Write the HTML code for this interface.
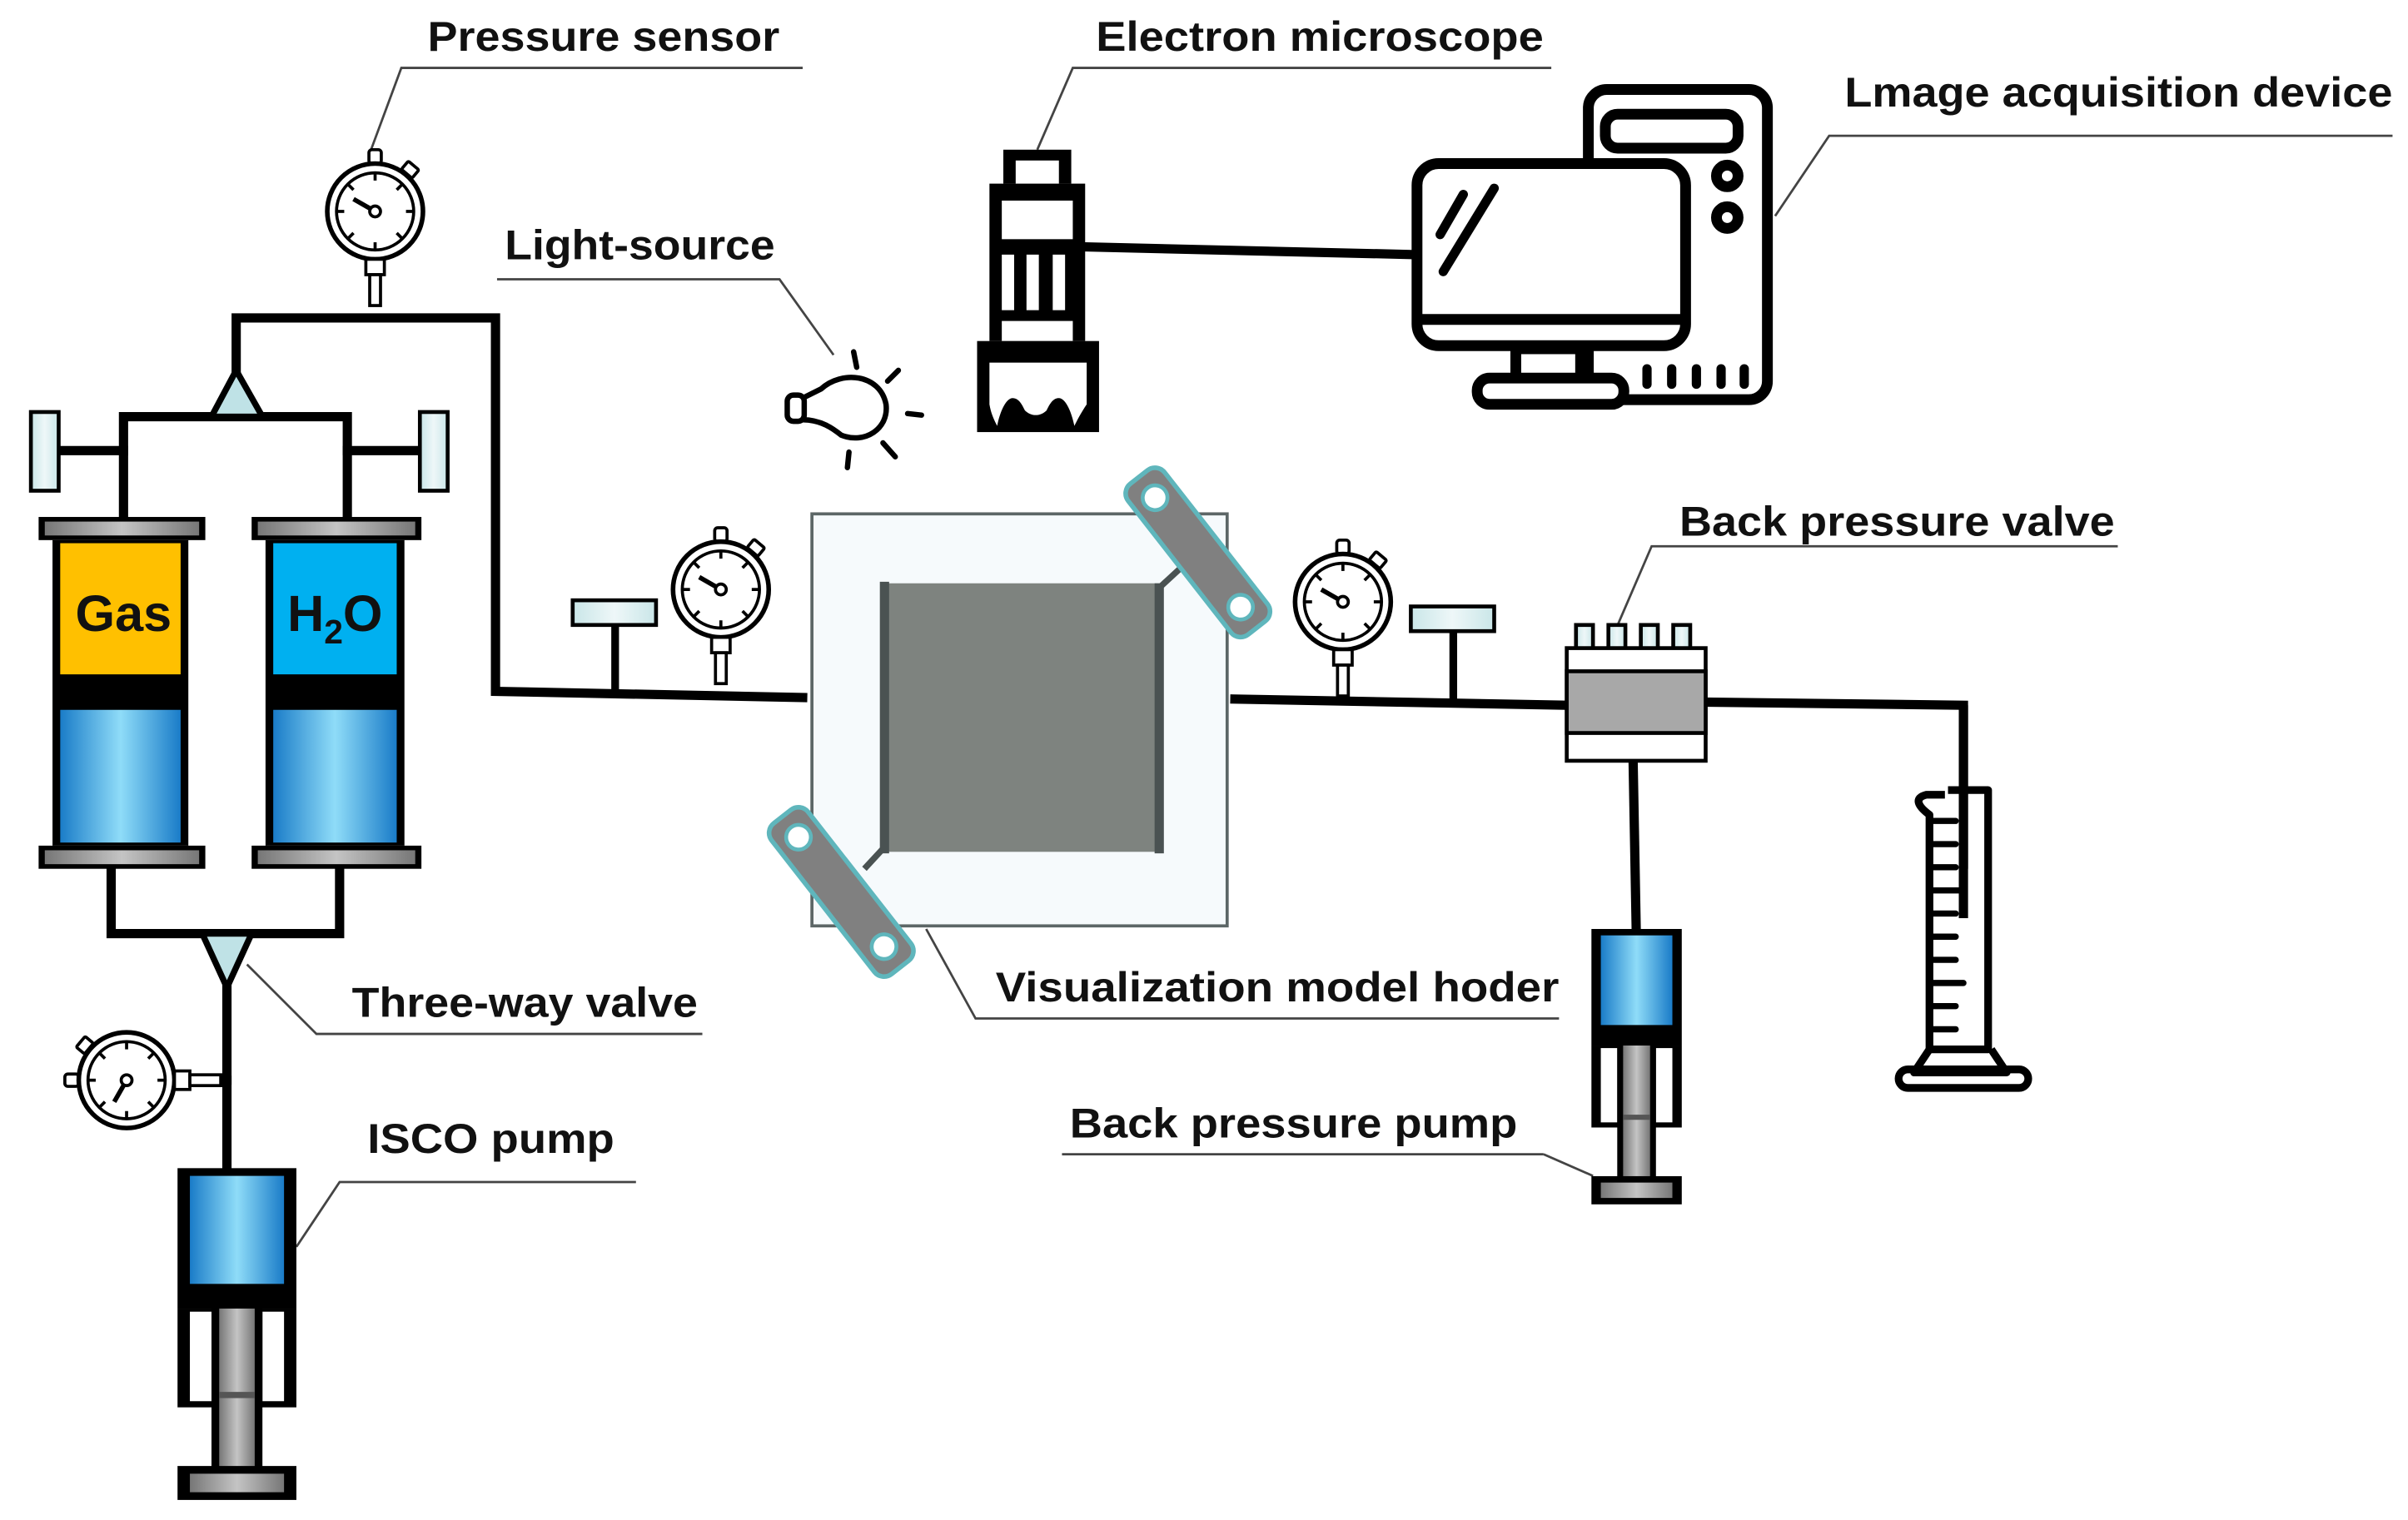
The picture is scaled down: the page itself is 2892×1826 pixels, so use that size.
<!DOCTYPE html>
<html><head><meta charset="utf-8"><style>html,body{margin:0;padding:0;background:#fff}svg{display:block}</style></head>
<body>
<svg width="2892" height="1826" viewBox="0 0 1560 985" xmlns="http://www.w3.org/2000/svg">
<defs>
<linearGradient id="blue" x1="0" x2="1" y1="0" y2="0">
<stop offset="0" stop-color="#1a7cc8"/><stop offset="0.5" stop-color="#8fdcf8"/><stop offset="1" stop-color="#1a7cc8"/></linearGradient>
<linearGradient id="gray" x1="0" x2="1" y1="0" y2="0">
<stop offset="0" stop-color="#777"/><stop offset="0.5" stop-color="#c4c4c4"/><stop offset="1" stop-color="#777"/></linearGradient>
<linearGradient id="lb" x1="0" x2="1"><stop offset="0" stop-color="#c9e6e8"/><stop offset="0.5" stop-color="#eef7f8"/><stop offset="1" stop-color="#c9e6e8"/></linearGradient>
<g id="gauge">
<rect x="-4" y="-40" width="8" height="9" rx="2" fill="#fff" stroke="#000" stroke-width="2"/>
<rect x="18" y="-31" width="9" height="7" rx="1" transform="rotate(40 22 -27)" fill="#fff" stroke="#000" stroke-width="2"/>
<circle r="31" fill="#fff" stroke="#000" stroke-width="3"/>
<circle r="25" fill="#fff" stroke="#000" stroke-width="2"/>
<g stroke="#000" stroke-width="2">
<line x1="0" y1="-25" x2="0" y2="-20"/><line x1="0" y1="25" x2="0" y2="20"/><line x1="-25" y1="0" x2="-20" y2="0"/><line x1="25" y1="0" x2="20" y2="0"/>
<line x1="17.7" y1="-17.7" x2="14" y2="-14"/><line x1="-17.7" y1="17.7" x2="-14" y2="14"/><line x1="17.7" y1="17.7" x2="14" y2="14"/><line x1="-17.7" y1="-17.7" x2="-14" y2="-14"/>
<line x1="0" y1="0" x2="-14" y2="-8" stroke-width="3"/></g>
<circle r="3.5" fill="#fff" stroke="#000" stroke-width="2"/>
<rect x="-6" y="31" width="12" height="10" fill="#fff" stroke="#000" stroke-width="2"/>
<rect x="-3.5" y="41" width="7" height="20" fill="#fff" stroke="#000" stroke-width="2"/>
</g>
<g id="pump">
<rect x="0" y="0" width="77" height="91" fill="#000"/>
<rect x="8" y="5" width="61" height="70" fill="url(#blue)"/>
<rect x="0" y="91" width="77" height="64" fill="#000"/>
<rect x="8" y="93" width="14" height="58" fill="#fff"/>
<rect x="55" y="93" width="14" height="58" fill="#fff"/>
<rect x="22" y="91" width="33" height="103" fill="#000"/>
<rect x="27" y="91" width="23" height="103" fill="url(#gray)"/>
<rect x="27" y="145" width="23" height="4" fill="#555"/>
<rect x="0" y="193" width="77" height="22" fill="#000"/>
<rect x="8" y="198" width="61" height="12" fill="url(#gray)"/>
</g>
<g id="tval">
<rect x="0" y="0" width="54" height="16" fill="url(#lb)" stroke="#000" stroke-width="2.5"/>
<rect x="25" y="16" width="5" height="44" fill="#000"/>
</g>
</defs>

<g font-family="Liberation Sans, Arial, sans-serif" font-weight="bold" font-size="27" fill="#111">
<text x="277" y="33" textLength="228" lengthAdjust="spacingAndGlyphs">Pressure sensor</text>
<text x="710" y="33" textLength="290" lengthAdjust="spacingAndGlyphs">Electron microscope</text>
<text x="1195" y="69" textLength="355" lengthAdjust="spacingAndGlyphs">Lmage acquisition device</text>
<text x="327" y="168" textLength="175" lengthAdjust="spacingAndGlyphs">Light-source</text>
<text x="1088" y="347" textLength="282" lengthAdjust="spacingAndGlyphs">Back pressure valve</text>
<text x="645" y="649" textLength="365" lengthAdjust="spacingAndGlyphs">Visualization model hoder</text>
<text x="228" y="659" textLength="224" lengthAdjust="spacingAndGlyphs">Three-way valve</text>
<text x="693" y="737" textLength="290" lengthAdjust="spacingAndGlyphs">Back pressure pump</text>
<text x="238" y="747" textLength="160" lengthAdjust="spacingAndGlyphs">ISCO pump</text>
</g>
<g fill="none" stroke="#444" stroke-width="1.5">
<polyline points="520,44 260,44 240,98"/>
<polyline points="1005,44 695,44 672,97"/>
<polyline points="1550,88 1185,88 1150,140"/>
<polyline points="322,181 505,181 540,230"/>
<polyline points="1372,354 1070,354 1048,405"/>
<polyline points="1010,660 632,660 600,602"/>
<polyline points="455,670 205,670 160,625"/>
<polyline points="1000,748 688,748"/>
<polyline points="1000,748 1032,762"/>
<polyline points="412,766 220,766 192,808"/>
</g>

<g stroke="#000" stroke-width="6" fill="none" stroke-linecap="square">
<polyline points="153,240 153,206 321,206 321,448 520,452"/>
<polyline points="80,335 80,270 225,270 225,335"/>
<line x1="38" y1="292" x2="80" y2="292"/>
<line x1="225" y1="292" x2="272" y2="292"/>
<polyline points="72,562 72,605 220,605 220,562"/>
<line x1="147" y1="640" x2="147" y2="757"/>
<line x1="703" y1="160" x2="917" y2="165"/>
<line x1="800" y1="453" x2="1015" y2="457"/>
<polyline points="1105,455 1272,457 1272,560"/>
<line x1="1058" y1="493" x2="1060" y2="602"/>
<line x1="110" y1="700" x2="147" y2="700"/>
</g>
<polygon points="153,240 137,270 170,270" fill="#bfe2e6" stroke="#000" stroke-width="4"/>
<polygon points="131,605 163,605 147,640" fill="#bfe2e6" stroke="#000" stroke-width="4"/>

<rect x="20" y="267" width="18" height="51" fill="url(#lb)" stroke="#000" stroke-width="2.5"/>
<rect x="272" y="267" width="18" height="51" fill="url(#lb)" stroke="#000" stroke-width="2.5"/>

<g>
<rect x="25" y="335" width="108" height="15" fill="#000"/><rect x="29" y="338" width="100" height="9" fill="url(#gray)"/>
<rect x="34" y="350" width="88" height="198" fill="#000"/>
<rect x="39" y="352" width="78" height="85" fill="#ffc000"/>
<rect x="39" y="460" width="78" height="86" fill="url(#blue)"/>
<rect x="25" y="548" width="108" height="15" fill="#000"/><rect x="29" y="551" width="100" height="9" fill="url(#gray)"/>
<rect x="163" y="335" width="110" height="15" fill="#000"/><rect x="167" y="338" width="102" height="9" fill="url(#gray)"/>
<rect x="172" y="350" width="90" height="198" fill="#000"/>
<rect x="177" y="352" width="80" height="85" fill="#00b0f0"/>
<rect x="177" y="460" width="80" height="86" fill="url(#blue)"/>
<rect x="163" y="548" width="110" height="15" fill="#000"/><rect x="167" y="551" width="102" height="9" fill="url(#gray)"/>
<text x="80" y="409" text-anchor="middle" font-family="Liberation Sans, Arial, sans-serif" font-weight="bold" font-size="33" fill="#111">Gas</text>
<text x="217" y="409" text-anchor="middle" font-family="Liberation Sans, Arial, sans-serif" font-weight="bold" font-size="33" fill="#111">H<tspan font-size="22" dy="8">2</tspan><tspan dy="-8">O</tspan></text>
</g>

<use href="#gauge" transform="translate(243,137)"/>
<use href="#gauge" transform="translate(467,382)"/>
<use href="#gauge" transform="translate(870,390)"/>
<use href="#gauge" transform="translate(82,700) rotate(-90)"/>
<use href="#tval" transform="translate(371,389)"/>
<use href="#tval" transform="translate(914,393)"/>

<use href="#pump" transform="translate(115,757)"/>
<use href="#pump" transform="translate(1031,602) scale(0.76,0.83)"/>

<rect x="526" y="333" width="269" height="267" fill="#f6fafc" stroke="#5c6666" stroke-width="2"/>
<rect x="572" y="378" width="180" height="174" fill="#7e837f"/>
<rect x="570" y="377" width="6" height="176" fill="#4a5252"/>
<rect x="748" y="378" width="6" height="175" fill="#4a5252"/>
<line x1="752" y1="380" x2="765" y2="368" stroke="#4a5252" stroke-width="4"/>
<line x1="572" y1="550" x2="560" y2="563" stroke="#4a5252" stroke-width="4"/>
<g transform="translate(776,358) rotate(52)">
<rect x="-62" y="-15" width="124" height="30" rx="8" fill="#808080" stroke="#5fb6bc" stroke-width="3"/>
<circle cx="-45" cy="0" r="8" fill="#fff" stroke="#5fb6bc" stroke-width="2.5"/>
<circle cx="45" cy="0" r="8" fill="#fff" stroke="#5fb6bc" stroke-width="2.5"/></g>
<g transform="translate(545,578) rotate(52)">
<rect x="-62" y="-15" width="124" height="30" rx="8" fill="#808080" stroke="#5fb6bc" stroke-width="3"/>
<circle cx="-45" cy="0" r="8" fill="#fff" stroke="#5fb6bc" stroke-width="2.5"/>
<circle cx="45" cy="0" r="8" fill="#fff" stroke="#5fb6bc" stroke-width="2.5"/></g>

<g fill="none" stroke="#000" stroke-width="3.5" stroke-linecap="round">
<path d="M520,258 L532,252 C545,240 570,242 574,262 C576,278 560,288 545,282 C540,278 532,272 520,272 Z" fill="#fff"/>
<rect x="510" y="256" width="11" height="17" rx="4" fill="#fff"/>
<line x1="553" y1="228" x2="555" y2="238"/>
<line x1="582" y1="240" x2="575" y2="247"/>
<line x1="588" y1="268" x2="597" y2="269"/>
<line x1="572" y1="287" x2="580" y2="296"/>
<line x1="550" y1="293" x2="549" y2="303"/>
</g>

<g fill="#000">
<rect x="650" y="97" width="44" height="22"/>
<rect x="658" y="104" width="28" height="16" fill="#fff"/>
<rect x="641" y="119" width="62" height="102"/>
<rect x="649" y="130" width="46" height="25" fill="#fff"/>
<rect x="649" y="165" width="8" height="36" fill="#fff"/>
<rect x="665" y="165" width="8" height="36" fill="#fff"/>
<rect x="682" y="165" width="8" height="36" fill="#fff"/>
<rect x="649" y="208" width="46" height="13" fill="#fff"/>
<rect x="633" y="221" width="79" height="59"/>
<path d="M641,235 L704,235 L704,262 C700,268 698,272 696,276 C694,266 690,258 686,258 C682,258 680,262 678,266 C674,270 668,270 664,266 C662,262 660,258 656,258 C652,258 648,266 646,276 C644,272 642,268 641,262 Z" fill="#fff"/>
</g>

<g fill="none" stroke="#000" stroke-width="7">
<rect x="1029" y="58" width="116" height="201" rx="12"/>
<rect x="1040" y="74" width="86" height="22" rx="8"/>
<circle cx="1119" cy="114" r="7"/>
<circle cx="1119" cy="141" r="7"/>
</g>
<rect x="918" y="106" width="174" height="118" rx="14" fill="#fff" stroke="#000" stroke-width="7"/>
<line x1="921" y1="207" x2="1089" y2="207" stroke="#000" stroke-width="7"/>
<rect x="982" y="226" width="42" height="20" fill="#fff" stroke="#000" stroke-width="7"/>
<rect x="957" y="245" width="95" height="17" rx="8" fill="#fff" stroke="#000" stroke-width="7"/>
<g stroke="#000" stroke-width="6" stroke-linecap="round">
<line x1="933" y1="152" x2="948" y2="126"/>
<line x1="935" y1="176" x2="968" y2="122"/>
<line x1="1067" y1="239" x2="1067" y2="249"/><line x1="1083" y1="239" x2="1083" y2="249"/><line x1="1099" y1="239" x2="1099" y2="249"/><line x1="1115" y1="239" x2="1115" y2="249"/><line x1="1130" y1="239" x2="1130" y2="249"/>
</g>

<g stroke="#000" stroke-width="2.5">
<rect x="1021" y="405" width="11" height="16" fill="url(#lb)"/>
<rect x="1042" y="405" width="11" height="16" fill="url(#lb)"/>
<rect x="1063" y="405" width="11" height="16" fill="url(#lb)"/>
<rect x="1084" y="405" width="11" height="16" fill="url(#lb)"/>
<rect x="1015" y="420" width="90" height="73" fill="#fff"/>
<rect x="1015" y="435" width="90" height="40" fill="#a8a8a8"/>
</g>

<g fill="none" stroke="#000" stroke-width="5" stroke-linejoin="round">
<path d="M1260,515 L1248,515 C1240,517 1242,522 1250,528 L1250,680 L1288,680 L1288,512 L1262,512"/>
<path d="M1250,680 L1240,695 L1300,695 L1290,680"/>
<rect x="1230" y="693" width="84" height="12" rx="6"/>
</g>
<g stroke="#000" stroke-width="4" stroke-linecap="round">
<line x1="1252" y1="532" x2="1267" y2="532"/><line x1="1252" y1="547" x2="1267" y2="547"/><line x1="1252" y1="562" x2="1267" y2="562"/><line x1="1252" y1="577" x2="1272" y2="577"/><line x1="1252" y1="592" x2="1267" y2="592"/><line x1="1252" y1="607" x2="1267" y2="607"/><line x1="1252" y1="622" x2="1267" y2="622"/><line x1="1252" y1="637" x2="1272" y2="637"/><line x1="1252" y1="652" x2="1267" y2="652"/><line x1="1252" y1="667" x2="1267" y2="667"/>
</g>
<line x1="1272" y1="457" x2="1272" y2="595" stroke="#000" stroke-width="6"/>
</svg>
</body></html>
